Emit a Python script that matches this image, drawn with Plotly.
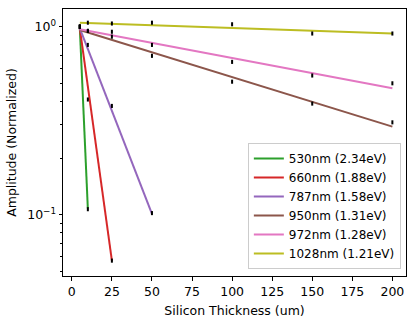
import plotly.graph_objects as go

# Silicon thickness (um) at which amplitude was measured
thickness = [5, 10, 25, 50, 100, 150, 200]

labels = [
    "530nm (2.34eV)",
    "660nm (1.88eV)",
    "787nm (1.58eV)",
    "950nm (1.31eV)",
    "972nm (1.28eV)",
    "1028nm (1.21eV)",
]
colors = ["#2ca02c", "#d62728", "#9467bd", "#8c564b", "#e377c2", "#bcbd22"]

# measured (normalized) amplitudes, one list per wavelength
amp_530 = [1.0, 0.107]
amp_660 = [1.0, 0.41, 0.057]
amp_787 = [1.0, 0.80, 0.379, 0.102]
amp_950 = [1.0, 0.95, 0.885, 0.70, 0.51, 0.39, 0.31]
amp_972 = [1.0, 0.95, 0.94, 0.80, 0.65, 0.55, 0.50]
amp_1028 = [1.0, 1.05, 1.04, 1.05, 1.03, 0.92, 0.92]
measured = [amp_530, amp_660, amp_787, amp_950, amp_972, amp_1028]

# exponential fit lines: (start, end) thickness and amplitude
fit_x = [[5, 10], [5, 25], [5, 50], [5, 200], [5, 200], [5, 200]]
fit_y = [
    [0.98, 0.108],
    [0.98, 0.057],
    [0.98, 0.101],
    [0.96, 0.294],
    [0.97, 0.47],
    [1.05, 0.92],
]

font = dict(family="DejaVu Sans", size=12.5, color="black")

fig = go.Figure()

for name, color, xs, ys in zip(labels, colors, fit_x, fit_y):
    fig.add_trace(
        go.Scatter(
            x=xs, y=ys, mode="lines", name=name,
            line=dict(color=color, width=2),
        )
    )

for ys in measured:
    fig.add_trace(
        go.Scatter(
            x=thickness[: len(ys)], y=ys, mode="markers", showlegend=False,
            marker=dict(size=1, color="black"),
            error_y=dict(type="percent", value=2.5, color="black",
                         thickness=2, width=0),
        )
    )

axis_common = dict(
    showgrid=False, zeroline=False, showline=True, linecolor="black",
    linewidth=1, mirror=True, ticks="outside", ticklen=3.5, tickwidth=0.8,
    tickcolor="black", tickfont=font, automargin=False,
)

fig.update_xaxes(
    **axis_common,
    range=[-5.5, 208.5],
    tickmode="array",
    tickvals=[0, 25, 50, 75, 100, 125, 150, 175, 200],
    title=dict(text="Silicon Thickness (um)", font=font, standoff=8),
)
fig.update_yaxes(
    **axis_common,
    type="log",
    range=[-1.326, 0.094],
    tickmode="array",
    tickvals=[0.1, 1],
    ticktext=["10<sup>\u22121</sup>", "10<sup>0</sup>"],
    minor=dict(
        tickmode="array",
        tickvals=[0.05, 0.06, 0.07, 0.08, 0.09, 0.2, 0.3, 0.4, 0.5, 0.6,
                  0.7, 0.8, 0.9],
        ticks="outside", ticklen=2, tickwidth=0.6, tickcolor="black",
        showgrid=False,
    ),
    title=dict(text="Amplitude (Normalized)", font=font, standoff=7),
)

fig.update_layout(
    width=415, height=322,
    margin=dict(l=63, r=9, t=9, b=46),
    paper_bgcolor="white", plot_bgcolor="white",
    font=font,
    legend=dict(
        x=0.985, y=0.026, xanchor="right", yanchor="bottom",
        bgcolor="rgba(255,255,255,0.8)", bordercolor="#cccccc", borderwidth=1,
        font=dict(family="DejaVu Sans", size=12, color="black"),
        tracegroupgap=0, itemwidth=30,
    ),
)

# the page keeps the browser's default 8px body margin otherwise
fig.write_html(
    "out.html",
    config={"displayModeBar": False},
    post_script="document.body.style.margin='0';",
)
